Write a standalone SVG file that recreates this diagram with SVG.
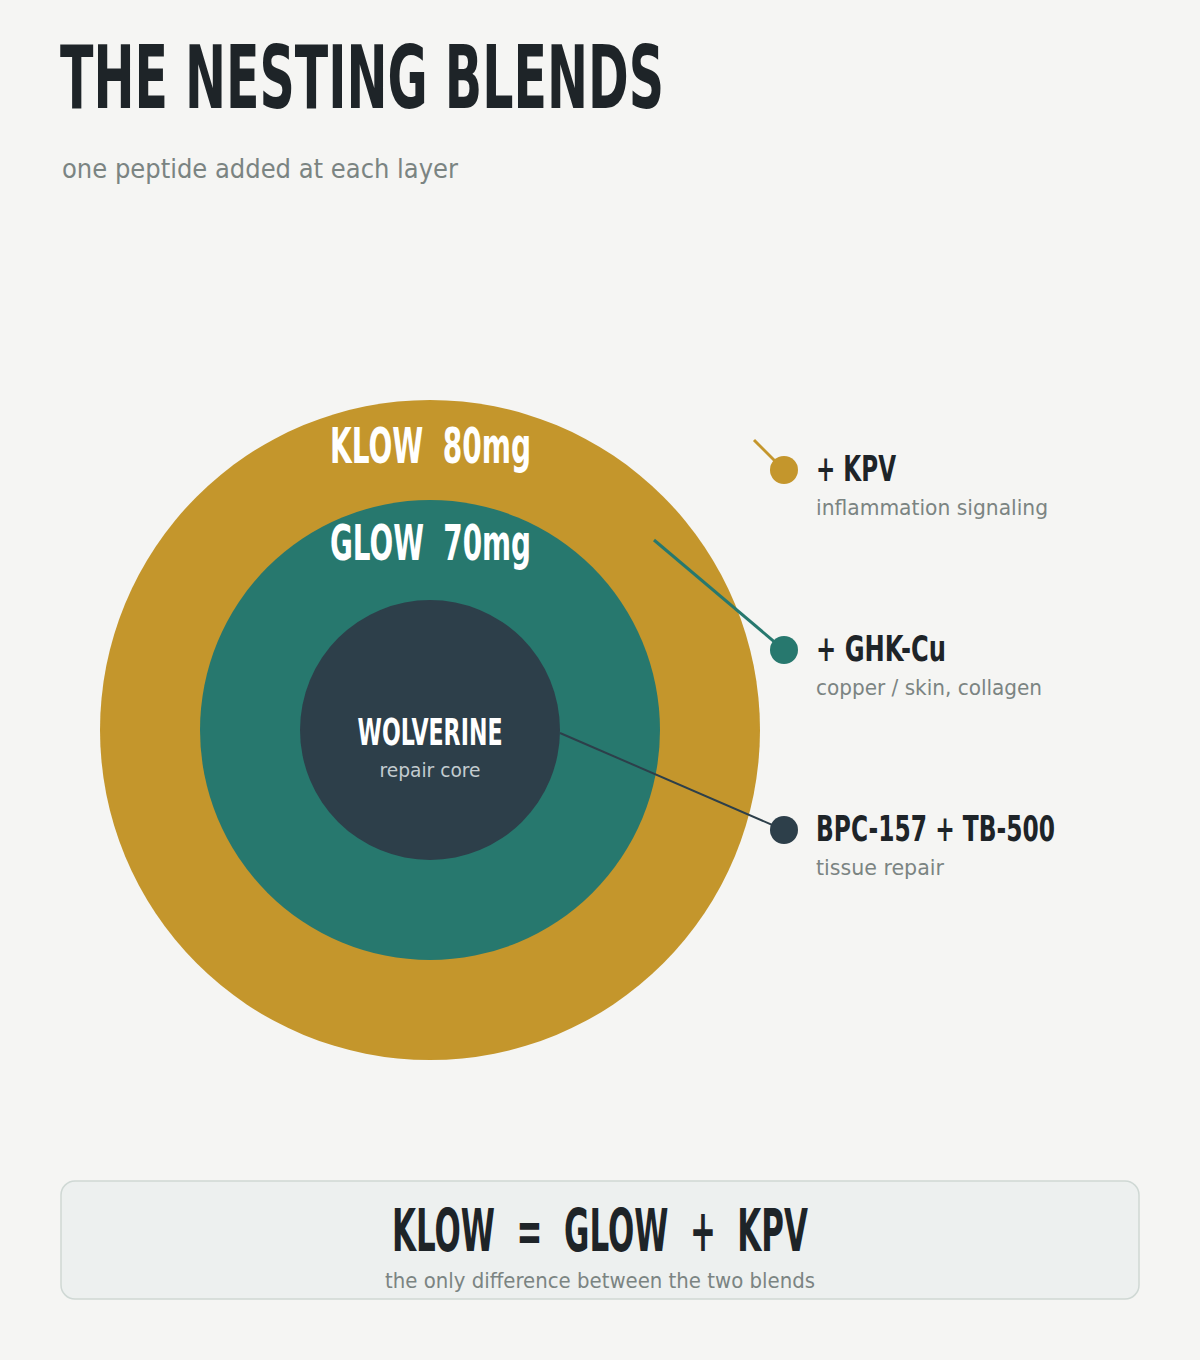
<svg xmlns="http://www.w3.org/2000/svg" width="1200" height="1360" viewBox="0 0 1200 1360">
<style>
.cond{font-family:"DejaVu Sans Condensed","Liberation Sans Narrow","Liberation Sans",sans-serif;font-weight:bold;}
.reg{font-family:"DejaVu Sans Condensed","Liberation Sans",sans-serif;font-weight:normal;}
.dark{fill:#1e2428;}
.grey{fill:#7b8482;}
.white{fill:#ffffff;}
</style>
<rect x="0" y="0" width="1200" height="1360" fill="#f5f5f3"/>
<g id="title">
<text x="60" y="108" font-size="88" class="cond dark" textLength="604" lengthAdjust="spacingAndGlyphs">THE NESTING BLENDS</text>
<text x="62" y="178" font-size="26" class="reg grey" textLength="396" lengthAdjust="spacingAndGlyphs">one peptide added at each layer</text>
</g>
<g id="klow">
<circle cx="430" cy="730" r="330" fill="#c4962c"/>
<text x="330" y="463" font-size="50" class="cond white" xml:space="preserve" textLength="201" lengthAdjust="spacingAndGlyphs">KLOW  80mg</text>
</g>
<g id="glow">
<circle cx="430" cy="730" r="230" fill="#27786e"/>
<text x="330" y="560" font-size="50" class="cond white" xml:space="preserve" textLength="201" lengthAdjust="spacingAndGlyphs">GLOW  70mg</text>
</g>
<g id="wolverine">
<circle cx="430" cy="730" r="130" fill="#2d3f4a"/>
<text x="430" y="745" font-size="38" text-anchor="middle" class="cond white" textLength="145" lengthAdjust="spacingAndGlyphs">WOLVERINE</text>
<text x="430" y="777" font-size="19" text-anchor="middle" class="reg" fill="#c3ccd0" textLength="101" lengthAdjust="spacingAndGlyphs">repair core</text>
</g>
<g id="connectors">
<line x1="754" y1="440" x2="784" y2="470" stroke="#c4962c" stroke-width="3"/>
<line x1="654" y1="540" x2="784" y2="650" stroke="#27786e" stroke-width="3"/>
<line x1="560" y1="733" x2="784" y2="830" stroke="#2d3f4a" stroke-width="2"/>
</g>
<g id="kpv">
<circle cx="784" cy="470" r="14" fill="#c4962c"/>
<text x="816" y="481" font-size="36" class="cond dark" textLength="80" lengthAdjust="spacingAndGlyphs">+ KPV</text>
<text x="816" y="515" font-size="22" class="reg grey" textLength="232" lengthAdjust="spacingAndGlyphs">inflammation signaling</text>
</g>
<g id="ghkcu">
<circle cx="784" cy="650" r="14" fill="#27786e"/>
<text x="816" y="661" font-size="36" class="cond dark" textLength="130" lengthAdjust="spacingAndGlyphs">+ GHK-Cu</text>
<text x="816" y="695" font-size="22" class="reg grey" textLength="226" lengthAdjust="spacingAndGlyphs">copper / skin, collagen</text>
</g>
<g id="bpc">
<circle cx="784" cy="830" r="14" fill="#2d3f4a"/>
<text x="816" y="841" font-size="36" class="cond dark" textLength="239" lengthAdjust="spacingAndGlyphs">BPC-157 + TB-500</text>
<text x="816" y="875" font-size="22" class="reg grey" textLength="128" lengthAdjust="spacingAndGlyphs">tissue repair</text>
</g>
<g id="summary">
<rect x="61" y="1181" width="1078" height="118" rx="14" fill="#edf0ef" stroke="#cfd8d4" stroke-width="1.5"/>
<text x="392" y="1251" font-size="58" class="cond dark" xml:space="preserve" textLength="416" lengthAdjust="spacingAndGlyphs">KLOW  =  GLOW  +  KPV</text>
<text x="600" y="1288" font-size="22" text-anchor="middle" class="reg grey" textLength="430" lengthAdjust="spacingAndGlyphs">the only difference between the two blends</text>
</g>
</svg>
